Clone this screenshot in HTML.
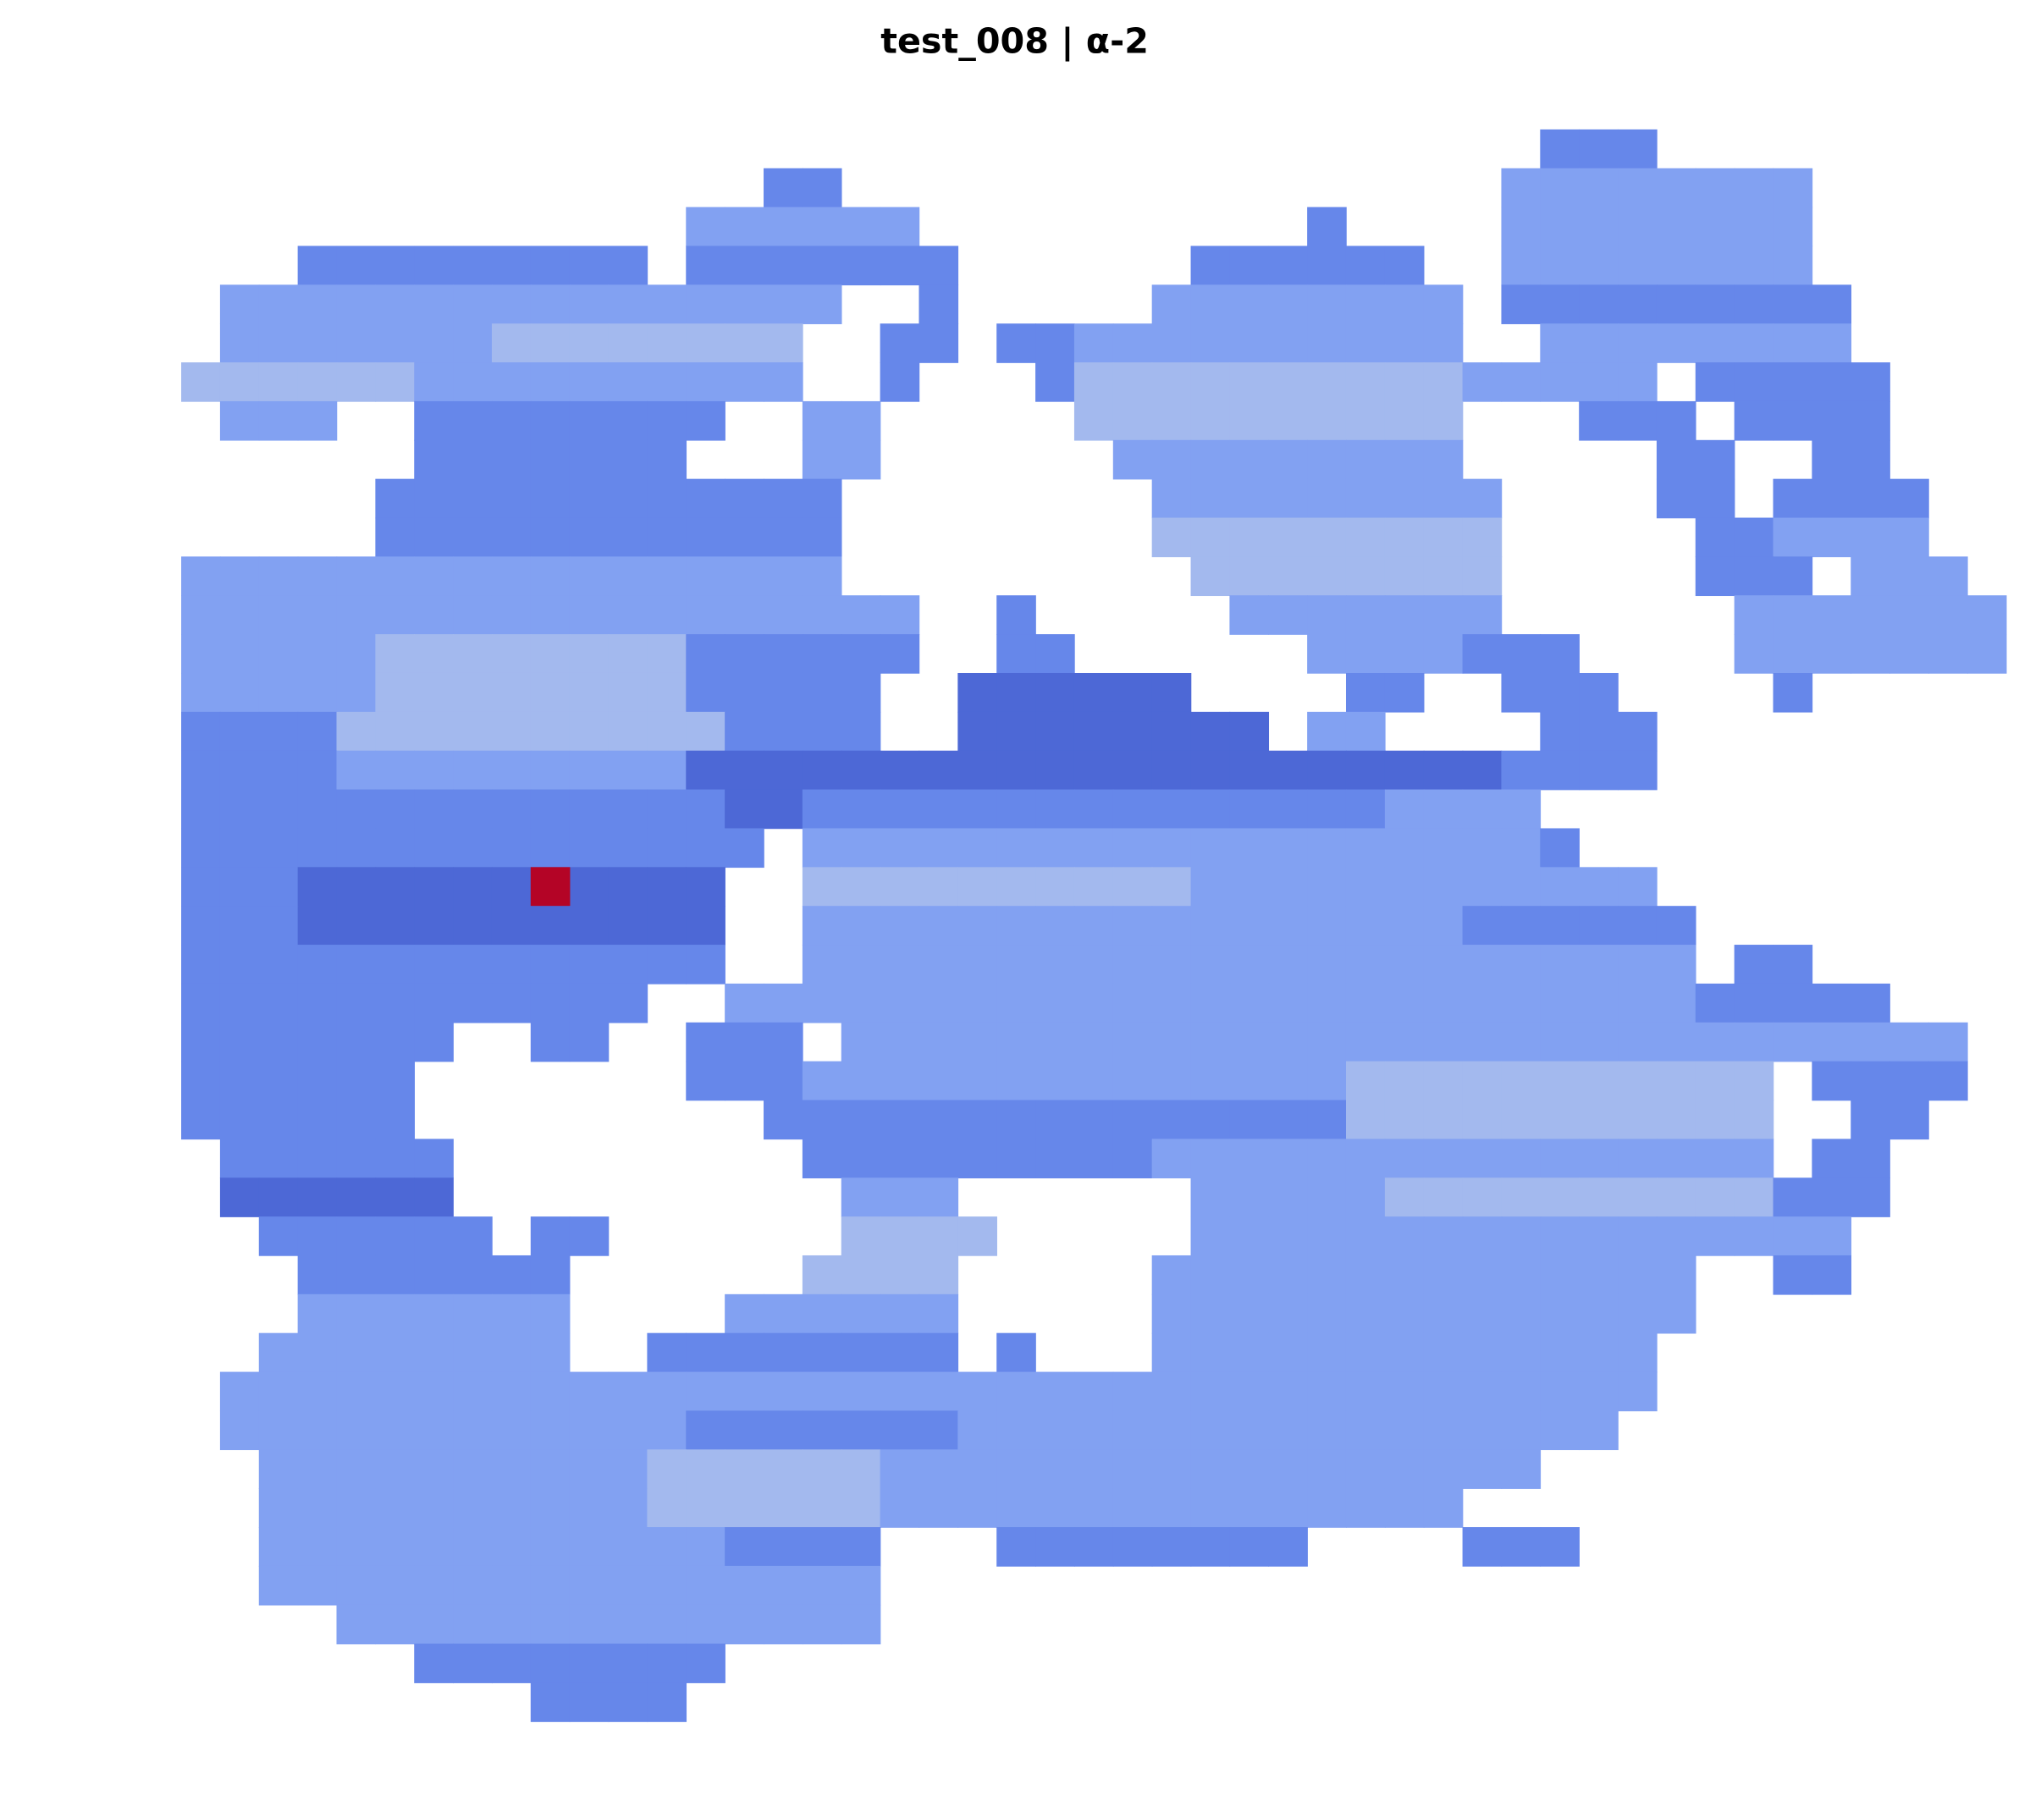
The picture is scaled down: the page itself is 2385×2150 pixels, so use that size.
<!DOCTYPE html>
<html><head><meta charset="utf-8">
<style>
html,body{margin:0;padding:0;background:#fff;width:2385px;height:2150px;overflow:hidden}
svg{display:block}
</style></head>
<body>
<svg id="chart" width="2385" height="2150" viewBox="0 0 1560 1406.3" xmlns="http://www.w3.org/2000/svg">
<text x="784" y="41" text-anchor="middle" font-family="'DejaVu Sans','Liberation Sans',sans-serif" font-weight="bold" font-size="27" fill="#000">test_008 | α-2</text>
<g id="cells"></g>
</svg>
<script>
// grid origin / cell size (display units)
const X0 = 140, Y0 = 100, CELL = 30;
// colour levels (coolwarm-like averages)
const levelColors = ["#3b4cc0","#4d68d6","#6687ea","#82a1f2","#a3b9ee","#d4bcb4","#e9a48a","#e8765c","#d0473d","#b40426"];
// rows of [colStart, colEnd, level]
const rows = [
[[35,37,2]],
[[15,16,2],[34,41,3]],
[[13,18,3],[29,29,2],[34,41,3]],
[[3,11,2],[13,19,2],[26,31,2],[34,41,3]],
[[1,16,3],[19,19,2],[25,32,3],[34,42,2]],
[[1,7,3],[8,15,4],[18,19,2],[21,22,2],[23,32,3],[35,42,3]],
[[0,5,4],[6,15,3],[18,18,2],[22,22,2],[23,32,4],[33,37,3],[39,43,2]],
[[1,3,3],[6,13,2],[16,17,3],[23,32,4],[36,38,2],[40,43,2]],
[[6,12,2],[16,17,3],[24,32,3],[38,39,2],[42,43,2]],
[[5,16,2],[25,33,3],[38,39,2],[41,44,2]],
[[5,16,2],[25,33,4],[39,40,2],[41,44,3]],
[[0,16,3],[26,33,4],[39,41,2],[43,45,3]],
[[0,18,3],[21,21,2],[27,33,3],[40,46,3]],
[[0,4,3],[5,12,4],[13,18,2],[21,22,2],[29,32,3],[33,35,2],[40,46,3]],
[[0,4,3],[5,12,4],[13,17,2],[20,25,1],[30,31,2],[34,36,2],[41,41,2]],
[[0,3,2],[4,13,4],[14,17,2],[20,27,1],[29,30,3],[35,37,2]],
[[0,3,2],[4,12,3],[13,15,1],[16,33,1],[34,37,2]],
[[0,2,2],[3,13,2],[14,15,1],[16,30,2],[31,34,3]],
[[0,2,2],[3,14,2],[16,34,3],[35,35,2]],
[[0,2,2],[3,13,1],[16,25,4],[26,37,3],[9,9,9]],
[[0,2,2],[3,13,1],[16,32,3],[33,38,2]],
[[0,13,2],[16,38,3],[40,41,2]],
[[0,11,2],[14,38,3],[39,43,2]],
[[0,6,2],[9,10,2],[13,15,2],[17,29,3],[30,45,3]],
[[0,5,2],[13,15,2],[16,29,3],[30,40,4],[42,45,2]],
[[0,5,2],[15,29,2],[30,40,4],[43,44,2]],
[[1,6,2],[16,24,2],[25,40,3],[42,43,2]],
[[1,6,1],[17,19,3],[26,30,3],[31,40,4],[41,43,2]],
[[2,7,2],[9,10,2],[17,20,4],[26,30,3],[31,42,3]],
[[3,9,2],[16,19,4],[25,38,3],[41,42,2]],
[[3,9,3],[14,19,3],[25,38,3]],
[[2,9,3],[12,19,2],[21,21,2],[25,37,3]],
[[1,19,3],[20,37,3]],
[[1,12,3],[13,19,2],[20,36,3]],
[[2,11,3],[12,17,4],[18,34,3]],
[[2,11,3],[12,17,4],[18,32,3]],
[[2,13,3],[14,17,2],[21,28,2],[33,35,2]],
[[2,17,3]],
[[4,17,3]],
[[6,13,2]],
[[9,12,2]]
];
const xPos = c => X0 + c * CELL;
const yPos = r => Y0 + r * CELL;
const g = document.getElementById('cells');
const NS = 'http://www.w3.org/2000/svg';
rows.forEach((segs, r) => {
  segs.forEach(seg => {
    for (let c = seg[0]; c <= seg[1]; c++) {
      const rect = document.createElementNS(NS, 'rect');
      rect.setAttribute('x', xPos(c));
      rect.setAttribute('y', yPos(r));
      rect.setAttribute('width', CELL + 0.5);
      rect.setAttribute('height', CELL + 0.5);
      rect.setAttribute('fill', levelColors[seg[2]]);
      
      
      g.appendChild(rect);
    }
  });
});
</script>
</body></html>
